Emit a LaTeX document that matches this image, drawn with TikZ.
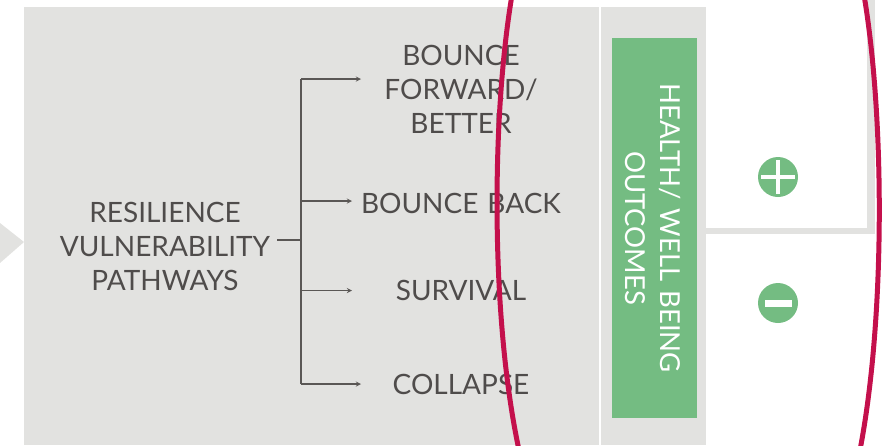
\documentclass[tikz,border=0pt]{standalone}
\usepackage{fontspec}
\setmainfont{Lato}[WordSpace=1.25]
\usetikzlibrary{arrows,positioning}
\definecolor{panelgray}{HTML}{E2E2E0}
\definecolor{linegray}{HTML}{5A5755}
\definecolor{textgray}{HTML}{4F4C4B}
\definecolor{leafgreen}{HTML}{74BC82}
\definecolor{ringred}{HTML}{C4104C}
\tikzstyle{pathway} = [align=center, text=textgray, inner sep=0pt, font=\fontsize{28}{34}\selectfont]
\tikzstyle{arrow} = [line width=1.3pt, draw=linegray, ->, >=stealth]
\tikzstyle{sign} = [circle, fill=leafgreen, minimum size=40pt, inner sep=0pt]
\tikzstyle{ring} = [line width=5pt, draw=ringred]

\begin{document}
\begin{tikzpicture}[x=1pt,y=-1pt]
	\useasboundingbox (0,0) rectangle (884,445);
	\fill[panelgray] (0,223) -- (24,242) -- (0,263) -- cycle;
	\fill[panelgray] (24,7) rectangle (598.5,445);
	\fill[panelgray] (601,7) rectangle (706,445);
	\fill[panelgray] (867,0) rectangle (875,234);
	\fill[panelgray] (706,227.5) rectangle (875,234);
	\fill[leafgreen] (612,37.5) rectangle (697,418);
	\node[pathway] (pathways) at (165,246) {RESILIENCE\\VULNERABILITY\\PATHWAYS};
	\node[pathway] (forward) at (461,89) {BOUNCE\\FORWARD/\\BETTER};
	\node[pathway] (back) at (461,203.5) {BOUNCE BACK};
	\node[pathway] (survival) at (461,290.5) {SURVIVAL};
	\node[pathway] (collapse) at (461,384.5) {COLLAPSE};
	\node[align=center, text=white, inner sep=0pt, rotate=-90, font=\fontsize{27.5}{35}\selectfont] (outcomes) at (653,228) {HEALTH/ WELL BEING\\OUTCOMES};
	\coordinate (stub) at (277,240);
	\coordinate (hub) at (301,240);
	\coordinate (top) at (301,79);
	\coordinate (bottom) at (301,384);
	\coordinate (backfork) at (301,201);
	\coordinate (backtip) at (352,201);
	\coordinate (survivalfork) at (301,290.5);
	\coordinate (survivaltip) at (352,290.5);
	\coordinate (forwardtip) at (361,79);
	\coordinate (collapsetip) at (361,384);
	\draw[line width=1.3pt, draw=linegray] (stub) -- (hub);
	\draw[line width=1.5pt, draw=linegray] (top) -- (bottom);
	\draw[arrow] (top) -- (forwardtip);
	\draw[arrow] (backfork) -- (backtip);
	\draw[arrow] (survivalfork) -- (survivaltip);
	\draw[arrow] (bottom) -- (collapsetip);
	\node[sign] (plus) at (778,177) {};
	\node[sign] (minus) at (778,303) {};
	\fill[white] (761,175) rectangle (795,179);
	\fill[white] (776,160) rectangle (780,194);
	\fill[white] (764.5,299.5) rectangle (791.5,306.5);
	\draw[ring] (512,-5) .. controls (491,120) and (491,320) .. (519,450);
	\draw[ring] (864,-5) .. controls (885,120) and (885,320) .. (860,450);
\end{tikzpicture}
\end{document}
